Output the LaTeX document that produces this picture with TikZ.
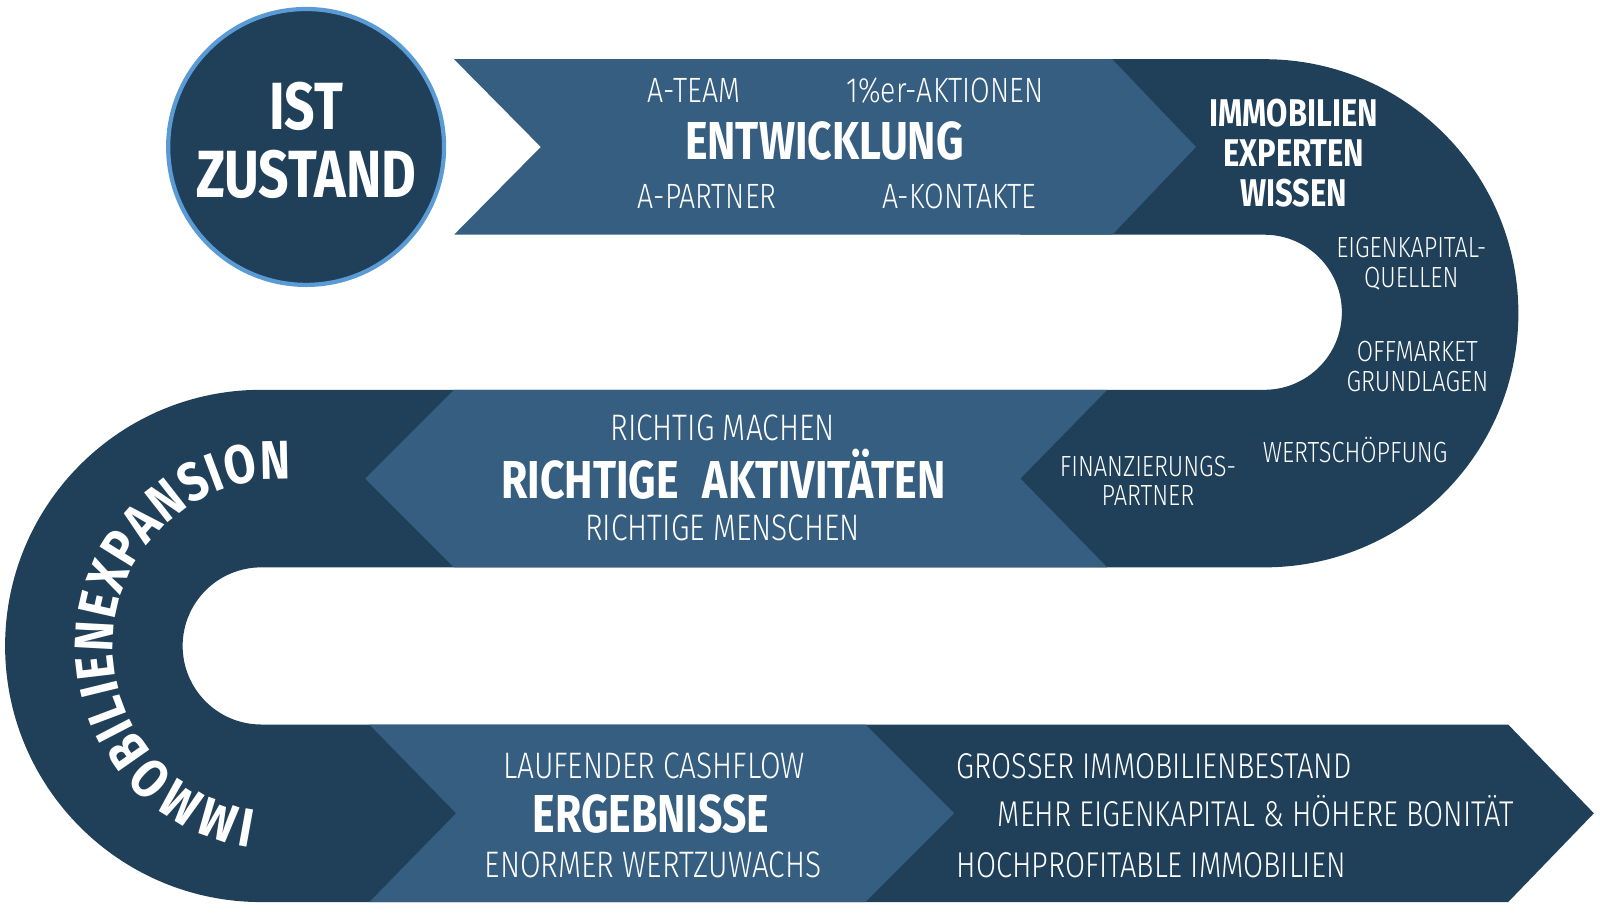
\documentclass[tikz,border=0pt]{standalone}
\usepackage{fontspec}
\setmainfont{Fira Sans}[FakeStretch=0.8]
\newfontfamily\duenn{Fira Sans Light}[FakeStretch=0.81]
\newfontfamily\bogen{Fira Sans}[FakeStretch=0.84]
\usetikzlibrary{decorations.text}
\definecolor{dunkel}{HTML}{20405A}
\definecolor{hell}{HTML}{365E80}
\definecolor{rand}{HTML}{5B9BD5}
\newcommand\ki{\duenn\fontsize{8.3}{9}\selectfont}
\newcommand\kl{\duenn\fontsize{10}{11}\selectfont}
\newcommand\mt{\duenn\fontsize{10.5}{11}\selectfont}
\newcommand\mr{\duenn\fontsize{10.2}{11}\selectfont}
\newcommand\hb{\fontsize{11}{12}\selectfont\bfseries}
\newcommand\tb{\fontsize{15.2}{16}\selectfont\bfseries}
\newcommand\zb{\fontsize{19}{20}\selectfont\bfseries}
\newcommand\bb{\bogen\fontsize{15.5}{16}\selectfont\bfseries}

\begin{document}
\begin{tikzpicture}[x=0.010204cm,y=-0.010204cm]%
        \useasboundingbox (0,0) rectangle (1568,903.6);%%
        %\draw[step=100,color=gray,very thin] (0,0) grid (1568,903);%%
        % der dunkle Weg
        \fill[dunkel] (1000,58) -- (1239,58) arc[start angle=-90,end angle=90,radius=249]%%
          -- (256,556) arc[start angle=-90,end angle=-270,radius=77]%%
          -- (1478,710) -- (1562,797) -- (1478,884)%%
          -- (256,884) arc[start angle=90,end angle=270,radius=251]%%
          -- (1239,382) arc[start angle=90,end angle=-90,radius=76]%%
          -- (1000,230) -- cycle;%%
        % helle Pfeile
        \fill[hell] (445,58) -- (1090,58) -- (1172,144) -- (1090,230) -- (445,230) -- (530,144) -- cycle;%%
        \fill[hell] (445,382) -- (1085,382) -- (1000,469) -- (1085,556) -- (445,556) -- (358,469) -- cycle;%%
        \fill[hell] (362,710) -- (848,710) -- (935,797) -- (848,884) -- (362,884) -- (447,797) -- cycle;%%
        \node[circle,fill=dunkel,draw=rand,line width=1.2pt,minimum size=2.76cm] (ist) at (300,144) {};%%
        \begin{scope}
        \tikzstyle{every node}=[text=white,anchor=base,inner sep=0pt] %%
        \node[font=\zb] (ist1) at (300,127) {IST}; %%
        \node[font=\zb] (ist2) at (300,194) {ZUSTAND}; %%
        \node[font=\kl] (ateam) at (680,100) {A-TEAM}; %%
        \node[font=\kl] (aktion) at (926,100) {1\%er-AKTIONEN}; %%
        \node[font=\tb] (entw) at (808,156) {ENTWICKLUNG}; %%
        \node[font=\kl] (apart) at (693,204) {A-PARTNER}; %%
        \node[font=\kl] (akont) at (940,204) {A-KONTAKTE}; %%
        \node[font=\hb] (exp1) at (1268,124) {IMMOBILIEN}; %%
        \node[font=\hb] (exp2) at (1268,163) {EXPERTEN}; %%
        \node[font=\hb] (exp3) at (1268,202) {WISSEN}; %%
        \node[font=\ki] (ek1) at (1383,252.5) {EIGENKAPITAL-}; %%
        \node[font=\ki] (ek2) at (1383,281.5) {QUELLEN}; %%
        \node[font=\ki] (off1) at (1389,354.5) {OFFMARKET}; %%
        \node[font=\ki] (off2) at (1389,383.5) {GRUNDLAGEN}; %%
        \node[font=\ki] (wert) at (1328,453.5) {WERTSCHÖPFUNG}; %%
        \node[font=\ki] (fin1) at (1125,466.5) {FINANZIERUNGS-}; %%
        \node[font=\ki] (fin2) at (1125,495.5) {PARTNER}; %%
        \node[font=\mt] (rm) at (708,432) {RICHTIG MACHEN}; %%
        \node[font=\tb] (ra) at (709,489) {RICHTIGE\hspace{.45em}AKTIVITÄTEN}; %%
        \node[font=\mt] (rme) at (708,530) {RICHTIGE MENSCHEN}; %%
        \node[font=\mt] (cash) at (641,762.5) {LAUFENDER CASHFLOW}; %%
        \node[font=\tb] (erg) at (638,815.5) {ERGEBNISSE}; %%
        \node[font=\mt] (wz) at (640,859.5) {ENORMER WERTZUWACHS}; %%
        \end{scope}
        \begin{scope}
        \tikzstyle{every node}=[text=white,anchor=base west,inner sep=0pt,font=\mr] %%
        \node (best) at (937,762.5) {GROSSER IMMOBILIENBESTAND}; %%
        \node (boni) at (977,809.5) {MEHR EIGENKAPITAL \& HÖHERE BONITÄT}; %%
        \node (hoch) at (937,859.5) {HOCHPROFITABLE IMMOBILIEN}; %%
        \end{scope}
        \path[decorate,decoration={text along path,text align=fit to path,text color=white,%%
          text={|\bb|IMMOBILIENEXPANSION}}] (274,633) ++(98:163) arc[start angle=98,end angle=274,radius=163];%%
\end{tikzpicture}
\end{document}
